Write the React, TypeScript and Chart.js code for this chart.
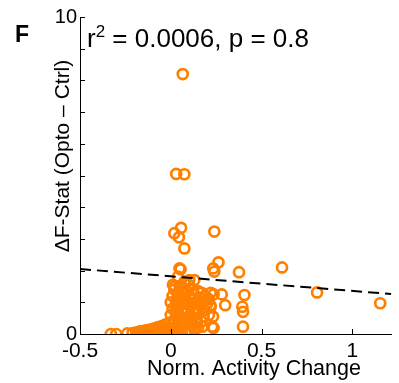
import React, { useEffect, useRef } from "react";
import { Chart, registerables } from "chart.js";

Chart.register(...registerables);

// Scatter data (Norm. Activity Change, ΔF-Stat)
const xVals: number[] = [
  // outliers / upper points
  0.066, 0.03, 0.075, 0.057, 0.02, 0.045, 0.24, 0.075,
  0.263, 0.234, 0.24, 0.613, 0.376, 0.054, 0.806, 1.154,
  0.406, 0.394, 0.398, 0.398, 0.236, 0.281, 0.3, 0.236,
  0.233, 0.18, 0.228, 0.174, 0.218, 0.13, 0.012, 0.075,
  0.04, 0.048, 0.102, 0.021,
  // left tail
  -0.33, -0.30, -0.24, -0.21, -0.19, -0.18, -0.17, -0.16,
  -0.15, -0.14, -0.13, -0.12, -0.11, -0.10, -0.09, -0.08,
  -0.07, -0.07, -0.06, -0.05, -0.05, -0.04, -0.03, -0.03,
  -0.02, -0.01, -0.01, 0.0, 0.01, 0.01,
  // dense cluster
  0.0, 0.0, 0.01, 0.01, 0.02, 0.02, 0.03, 0.03,
  0.03, 0.04, 0.04, 0.04, 0.05, 0.05, 0.05, 0.06,
  0.06, 0.06, 0.07, 0.07, 0.07, 0.08, 0.08, 0.08,
  0.09, 0.09, 0.09, 0.10, 0.10, 0.10, 0.11, 0.11,
  0.12, 0.12, 0.12, 0.13, 0.13, 0.14, 0.14, 0.15,
  0.15, 0.16, 0.16, 0.17, 0.17, 0.18, 0.19, 0.19,
  0.20, 0.21, 0.21, 0.22, 0.22, 0.02, 0.04, 0.06,
  0.08, 0.11, 0.13, 0.15, 0.146, 0.1, 0.136,
];
const yVals: number[] = [
  8.2, 5.05, 5.04, 3.35, 3.18, 3.05, 3.23, 2.7,
  2.26, 2.07, 1.97, 2.1, 1.95, 2.04, 1.31, 0.97,
  1.23, 0.86, 0.7, 0.23, 1.25, 1.25, 0.91, 0.19,
  0.55, 0.55, 0.23, 0.23, 0.91, 1.7, 1.55, 1.65,
  1.81, 2.07, 1.7, 1.49,
  0.0, 0.0, 0.02, 0.03, 0.05, 0.02, 0.08, 0.04,
  0.1, 0.03, 0.12, 0.06, 0.15, 0.08, 0.18, 0.1,
  0.22, 0.05, 0.14, 0.25, 0.08, 0.18, 0.3, 0.1,
  0.2, 0.35, 0.05, 0.15, 0.3, 0.02,
  0.6, 1.0, 0.8, 1.2, 0.45, 1.4, 0.7, 1.0,
  0.25, 1.25, 0.55, 0.9, 1.5, 0.35, 1.1, 0.75,
  1.3, 0.15, 0.95, 0.5, 1.45, 1.15, 0.65, 0.3,
  1.0, 1.35, 0.8, 0.45, 1.2, 1.55, 0.9, 0.6,
  1.1, 1.4, 0.3, 0.8, 1.25, 1.0, 0.5, 1.35,
  0.7, 1.15, 0.9, 0.4, 1.3, 1.0, 0.75, 1.2,
  0.95, 1.1, 0.6, 0.85, 1.3, 0.05, 0.1, 0.0,
  0.05, 0.1, 0.15, 0.2, 0.39, 0.5, 0.19,
];

// Regression line endpoints
const fitX: number[] = [-0.5, 1.215];
const fitY: number[] = [2.05, 1.26];

const xTickValues: number[] = [-0.5, 0, 0.5, 1];
const xTickLabels: string[] = ["-0.5", "0", "0.5", "1"];
const yTickValues: number[] = [0, 1, 2, 3, 4, 5, 6, 7, 8, 9, 10];
const yTickLabelled: number[] = [0, 10];

const FONT = "'Liberation Sans', Arial, Helvetica, sans-serif";
const ORANGE = "#FF8000";

const overlay = {
  id: "overlay",
  afterDraw(chart: any) {
    const { ctx, chartArea } = chart;
    const x = chart.scales.x;
    const y = chart.scales.y;
    ctx.save();
    ctx.strokeStyle = "#000";
    ctx.lineWidth = 1;
    yTickValues.forEach((v) => {
      const py = Math.round(y.getPixelForValue(v)) + 0.5;
      ctx.beginPath();
      ctx.moveTo(chartArea.left, py);
      ctx.lineTo(chartArea.left + 5, py);
      ctx.stroke();
    });
    xTickValues.forEach((v) => {
      const px = Math.round(x.getPixelForValue(v)) + 0.5;
      ctx.beginPath();
      ctx.moveTo(px, chartArea.bottom);
      ctx.lineTo(px, chartArea.bottom - 5);
      ctx.stroke();
    });

    ctx.fillStyle = "#000";
    ctx.textBaseline = "alphabetic";
    ctx.textAlign = "left";
    ctx.font = `bold 23px ${FONT}`;
    ctx.fillText("F", 15, 42);

    let px = 87;
    const base = 47;
    ctx.font = `26px ${FONT}`;
    ctx.fillText("r", px, base);
    px += ctx.measureText("r").width;
    ctx.font = `17px ${FONT}`;
    ctx.fillText("2", px, base - 10);
    px += ctx.measureText("2").width;
    ctx.font = `26px ${FONT}`;
    ctx.fillText(" = 0.0006, p = 0.8", px, base);

    ctx.font = `21.5px ${FONT}`;
    ctx.textAlign = "center";
    ctx.textBaseline = "middle";
    ctx.fillText("Norm. Activity Change", 254, 369);

    ctx.font = `21px ${FONT}`;
    ctx.translate(63, 156);
    ctx.rotate(-Math.PI / 2);
    ctx.fillText("\u0394F-Stat (Opto \u2013 Ctrl)", 0, 0);
    ctx.restore();
  },
};

export default function App() {
  const ref = useRef<HTMLCanvasElement>(null);
  useEffect(() => {
    if (!ref.current) return;
    const chart = new Chart(ref.current, {
      type: "scatter",
      data: {
        datasets: [
          {
            type: "line",
            data: fitX.map((v, i) => ({ x: v, y: fitY[i] })),
            borderColor: "#000",
            borderWidth: 2,
            borderDash: [11, 6],
            pointRadius: 0,
            fill: false,
          } as any,
          {
            data: xVals.map((v, i) => ({ x: v, y: yVals[i] })),
            pointStyle: "circle",
            pointRadius: 5,
            pointBorderWidth: 2.7,
            borderColor: ORANGE,
            backgroundColor: "rgba(0,0,0,0)",
            pointBackgroundColor: "rgba(0,0,0,0)",
            pointBorderColor: ORANGE,
          } as any,
        ],
      },
      options: {
        animation: false,
        responsive: false,
        layout: { padding: { top: 17, right: 0, left: 0, bottom: 0 } },
        plugins: { legend: { display: false }, tooltip: { enabled: false } },
        scales: {
          x: {
            type: "linear",
            min: -0.5,
            max: 1.215,
            grid: { display: false, drawTicks: false },
            border: { display: true, color: "#000", width: 1 },
            afterBuildTicks: (s: any) => {
              s.ticks = xTickValues.map((v) => ({ value: v }));
            },
            afterFit: (s: any) => {
              s.height = 49;
            },
            ticks: {
              padding: 5,
              color: "#000",
              font: { family: FONT, size: 21 },
              maxRotation: 0,
              autoSkip: false,
              callback: (v: any) => {
                const i = xTickValues.indexOf(Number(v));
                return i >= 0 ? xTickLabels[i] : "";
              },
            },
          },
          y: {
            type: "linear",
            min: 0,
            max: 10,
            grid: { display: false, drawTicks: false },
            border: { display: true, color: "#000", width: 1 },
            afterBuildTicks: (s: any) => {
              s.ticks = yTickLabelled.map((v) => ({ value: v }));
            },
            afterFit: (s: any) => {
              s.width = 80;
            },
            ticks: {
              padding: 3,
              color: "#000",
              font: { family: FONT, size: 20 },
              autoSkip: false,
              callback: (v: any) => String(v),
            },
          },
        },
      },
      plugins: [overlay],
    });
    return () => chart.destroy();
  }, []);
  return (
    <div style={{ position: "fixed", left: 0, top: 0, width: 399, height: 383, background: "#fff" }}>
      <canvas ref={ref} width={399} height={383} />
    </div>
  );
}
